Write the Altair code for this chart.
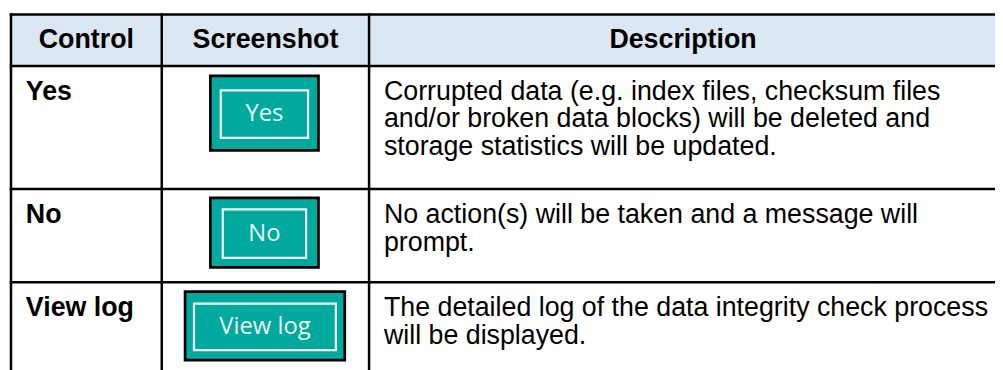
import altair as alt
import pandas as pd

# ---- content ----
headers = ["Control", "Screenshot", "Description"]
controls = ["Yes", "No", "View log"]
button_labels = ["Yes", "No", "View log"]
descriptions = [
    ["Corrupted data (e.g. index files, checksum files",
     "and/or broken data blocks) will be deleted and",
     "storage statistics will be updated."],
    ["No action(s) will be taken and a message will",
     "prompt."],
    ["The detailed log of the data integrity check process",
     "will be displayed."],
]

# ---- layout (pixel coordinates of the page) ----
COL_EDGES = [11, 163, 372, 1010]
ROW_EDGES = [13, 65, 189, 283, 380]
BTN_CX = [266.5, 266.5, 267]
BTN_CY_OFF = [47.5, 44, 44]          # from the top of the row
BTN_W = [109, 109, 161]
BTN_H = [75, 70, 69]
BTN_IN_W = [88, 84, 143]
BTN_IN_H = [48, 49, 47]
BASE_OFF = 34                         # first text baseline below row top
LINE_H = 28
TEXT_X = 387
CTRL_X = 26

HEAD_FILL = "#dce7f4"
TEAL = "#00a99d"
FONT = "Liberation Sans"
FS = 27

xs = alt.Scale(domain=[8, 1003], nice=False, zero=False)
ys = alt.Scale(domain=[8, 370], nice=False, zero=False, reverse=True)

def X(f="x"):
    return alt.X(f"{f}:Q", scale=xs, axis=None)

def Y(f="y"):
    return alt.Y(f"{f}:Q", scale=ys, axis=None)

# header background
head_df = pd.DataFrame([{"x": COL_EDGES[0], "x2": COL_EDGES[-1],
                         "y": ROW_EDGES[0], "y2": ROW_EDGES[1]}])
head_bg = alt.Chart(head_df).mark_rect(color=HEAD_FILL).encode(
    x=X(), x2="x2:Q", y=Y(), y2="y2:Q")

# grid lines
h_rows = [{"x": COL_EDGES[0], "x2": COL_EDGES[-1], "y": r, "y2": r} for r in ROW_EDGES[:-1]]
v_rows = [{"x": c, "x2": c, "y": ROW_EDGES[0], "y2": ROW_EDGES[-1]} for c in COL_EDGES[:-1]]
grid = alt.Chart(pd.DataFrame(h_rows + v_rows)).mark_rule(
    color="black", strokeWidth=2.5, strokeCap="square").encode(
    x=X(), x2="x2:Q", y=Y(), y2="y2:Q")

# header texts
hdr_df = pd.DataFrame({
    "t": headers,
    "x": [(COL_EDGES[0] + COL_EDGES[1]) / 2,
          (COL_EDGES[1] + COL_EDGES[2]) / 2,
          (COL_EDGES[2] + 1005) / 2],
    "y": [ROW_EDGES[0] + BASE_OFF] * 3,
})
hdr = alt.Chart(hdr_df).mark_text(
    font=FONT, fontSize=FS, fontWeight="bold", align="center",
    baseline="alphabetic", color="black").encode(x=X(), y=Y(), text="t:N")

# control names
ctrl_df = pd.DataFrame({
    "t": controls,
    "x": [CTRL_X] * 3,
    "y": [ROW_EDGES[i + 1] + BASE_OFF for i in range(3)],
})
ctrl = alt.Chart(ctrl_df).mark_text(
    font=FONT, fontSize=FS, fontWeight="bold", align="left",
    baseline="alphabetic", color="black").encode(x=X(), y=Y(), text="t:N")

# descriptions
desc_rows = []
for i, lines in enumerate(descriptions):
    for j, line in enumerate(lines):
        desc_rows.append({"t": line, "x": TEXT_X,
                          "y": ROW_EDGES[i + 1] + BASE_OFF + j * LINE_H})
desc = alt.Chart(pd.DataFrame(desc_rows)).mark_text(
    font=FONT, fontSize=FS, align="left", baseline="alphabetic",
    color="black").encode(x=X(), y=Y(), text="t:N")

# buttons
btn_rows = []
for i, lab in enumerate(button_labels):
    cy = ROW_EDGES[i + 1] + BTN_CY_OFF[i]
    cx = BTN_CX[i]
    btn_rows.append({
        "t": lab, "cx": cx, "cy": cy + 1,
        "x": cx - BTN_W[i] / 2, "x2": cx + BTN_W[i] / 2,
        "y": cy - BTN_H[i] / 2, "y2": cy + BTN_H[i] / 2,
        "ix": cx - BTN_IN_W[i] / 2, "ix2": cx + BTN_IN_W[i] / 2,
        "iy": cy - BTN_IN_H[i] / 2 + 1, "iy2": cy + BTN_IN_H[i] / 2 + 1,
    })
btn_df = pd.DataFrame(btn_rows)
btn_outer = alt.Chart(btn_df).mark_rect(
    fill=TEAL, stroke="black", strokeWidth=2.7).encode(
    x=X(), x2="x2:Q", y=Y(), y2="y2:Q")
btn_inner = alt.Chart(btn_df).mark_rect(
    fillOpacity=0, stroke="#f4fbfa", strokeWidth=2.2).encode(
    x=X("ix"), x2="ix2:Q", y=Y("iy"), y2="iy2:Q")
btn_text = alt.Chart(btn_df).mark_text(
    font="Open Sans", fontSize=24, align="center", baseline="middle",
    color="#e9f6f4").encode(x=X("cx"), y=Y("cy"), text="t:N")

chart = alt.layer(head_bg, grid, hdr, ctrl, desc, btn_outer, btn_inner, btn_text).properties(
    width=995, height=362, padding=0,
    autosize=alt.AutoSizeParams(type="none"),
    background="white",
).configure_view(stroke=None)

chart.save("out.html", embed_options={"renderer": "svg", "actions": False})
